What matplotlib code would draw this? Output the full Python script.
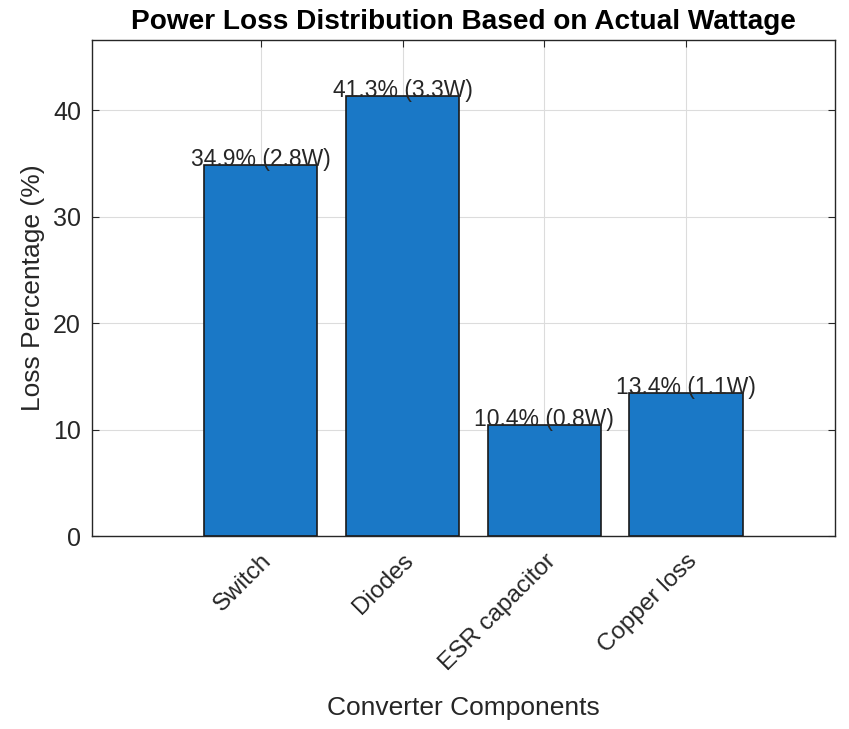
import matplotlib
matplotlib.use("Agg")
import matplotlib.pyplot as plt

categories = ["Switch", "Diodes", "ESR capacitor", "Copper loss"]
percentages = [34.9, 41.3, 10.4, 13.4]
watts = [2.8, 3.3, 0.8, 1.1]
yticks = [0, 10, 20, 30, 40]

plt.rcParams['font.family'] = ['Liberation Sans', 'DejaVu Sans']

fig = plt.figure(figsize=(8.49, 7.29), dpi=100)
ax = fig.add_axes([92/849, 1 - 536/729, (835-92)/849, (536-40)/729])

x = list(range(len(categories)))
ax.bar(x, percentages, width=0.8, color='#1a78c6', edgecolor='#1a1a1a', linewidth=1.2, zorder=3)

for xi, p, w in zip(x, percentages, watts):
    ax.text(xi, p - 0.1, f"{p:.1f}% ({w:.1f}W)", ha='center', va='baseline',
            fontsize=16.5, color='#262626', zorder=4)

ax.set_xlim(-1.19, 4.05)
ax.set_ylim(0, 46.6)
ax.set_xticks(x)
ax.set_xticklabels(categories, rotation=45, ha='right', rotation_mode='anchor', fontsize=17.5, color='#262626')
ax.set_yticks(yticks)
ax.tick_params(axis='y', labelsize=18, colors='#262626', pad=8)
ax.tick_params(direction='in', top=True, right=True, length=5, width=0.8, color='#262626')
ax.tick_params(axis='x', pad=10)

ax.grid(True, color='#dcdcdc', linewidth=0.8, zorder=0)
ax.set_axisbelow(True)
for s in ax.spines.values():
    s.set_color('#262626')
    s.set_linewidth(1.0)

ax.set_title("Power Loss Distribution Based on Actual Wattage", fontsize=20.2, fontweight='bold', pad=8)
ax.set_ylabel("Loss Percentage (%)", fontsize=19, color='#262626', labelpad=6)
ax.set_xlabel("Converter Components", fontsize=19, color='#262626', labelpad=15)

fig.savefig("out.png", dpi=100)
